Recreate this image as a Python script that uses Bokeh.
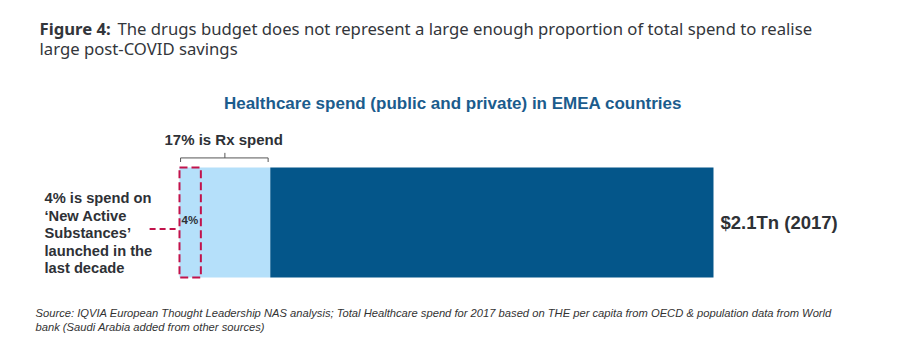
from bokeh.plotting import figure
from bokeh.models import Range1d, Label
from bokeh.embed import file_html
from bokeh.resources import INLINE

# ---- data ----
total_share = 100          # total healthcare spend (EMEA), %
rx_share = 17              # Rx spend share, %
nas_share = 4              # New Active Substances share, %
total_label = "$2.1Tn (2017)"
rx_label = "17% is Rx spend"
nas_label = "4%"
nas_note = ["4% is spend on", "\u2018New Active", "Substances\u2019", "launched in the", "last decade"]
fig_title_bold = "Figure 4:"
fig_title_rest = "The drugs budget does not represent a large enough proportion of total spend to realise"
fig_title_line2 = "large post-COVID savings"
chart_title = "Healthcare spend (public and private) in EMEA countries"
source_lines = [
    "Source: IQVIA European Thought Leadership NAS analysis; Total Healthcare spend for 2017 based on THE per capita from OECD & population data from World",
    "bank (Saudi Arabia added from other sources)",
]

W, H = 900, 363
DARK = "#04568a"
LIGHT = "#b5e0fa"
RED = "#c2134b"
TXT = "#2e3136"
BLUE_T = "#1b5c8d"
DY = 6  # baseline correction

p = figure(width=W, height=H, output_backend="svg", toolbar_location=None,
           x_range=Range1d(-33.52, 135.02), y_range=Range1d(-1.2818, 2.0182),
           x_axis_location=None, y_axis_location=None, min_border=0,
           title=None)
p.grid.visible = False
p.outline_line_color = None
p.background_fill_color = "white"
p.border_fill_color = "white"

# bars
p.hbar(y=[0], left=[0], right=[rx_share], height=1, fill_color=LIGHT, line_color=None)
p.hbar(y=[0], left=[rx_share], right=[total_share], height=1, fill_color=DARK, line_color=None)

# NAS dashed box
p.quad(left=[0], right=[nas_share], bottom=[-0.5], top=[0.5], fill_color=None,
       line_color=RED, line_width=2, line_dash="8 4")
# connector
p.segment(x0=[-5.6], x1=[0], y0=[-0.06], y1=[-0.06], line_color=RED, line_width=2, line_dash="6 4")

# bracket for Rx
bc = "#555555"
p.segment(x0=[0.2], x1=[rx_share - 0.4], y0=[0.587], y1=[0.587], line_color=bc, line_width=1)
p.segment(x0=[0.2, rx_share - 0.4], x1=[0.2, rx_share - 0.4], y0=[0.587, 0.587], y1=[0.55, 0.55],
          line_color=bc, line_width=1)
p.segment(x0=[rx_share / 2], x1=[rx_share / 2], y0=[0.587], y1=[0.633], line_color=bc, line_width=1)


def lab(text, x, y_page, size, style="normal", font="Liberation Sans", color=TXT, align="left"):
    p.add_layout(Label(x=x, y=H - (y_page - DY), x_units="screen", y_units="screen", text=text,
                       text_font=font, text_font_size=f"{size}px", text_font_style=style,
                       text_color=color, text_align=align, text_baseline="alphabetic"))


lab(fig_title_bold, 39, 34, 16.7, "bold", "Noto Sans", "#33363b")
lab(fig_title_rest, 117, 34, 16.7, "normal", "Noto Sans", "#33363b")
lab(fig_title_line2, 39, 54, 16.7, "normal", "Noto Sans", "#33363b")

lab(chart_title, 452.5, 109, 17, "bold", color=BLUE_T, align="center")
lab(rx_label, 164, 145, 15, "bold")

for i, t in enumerate(nas_note):
    lab(t, 44, 203.5 + 17.5 * i, 14.7, "bold")

lab(nas_label, 181, 225, 11.5, "bold")
lab(total_label, 720, 228, 18.5, "bold")

for i, t in enumerate(source_lines):
    lab(t, 35, 318 + 14 * i, 11.2, "italic", color="#333333")

open("out.html", "w").write(file_html(p, INLINE))
